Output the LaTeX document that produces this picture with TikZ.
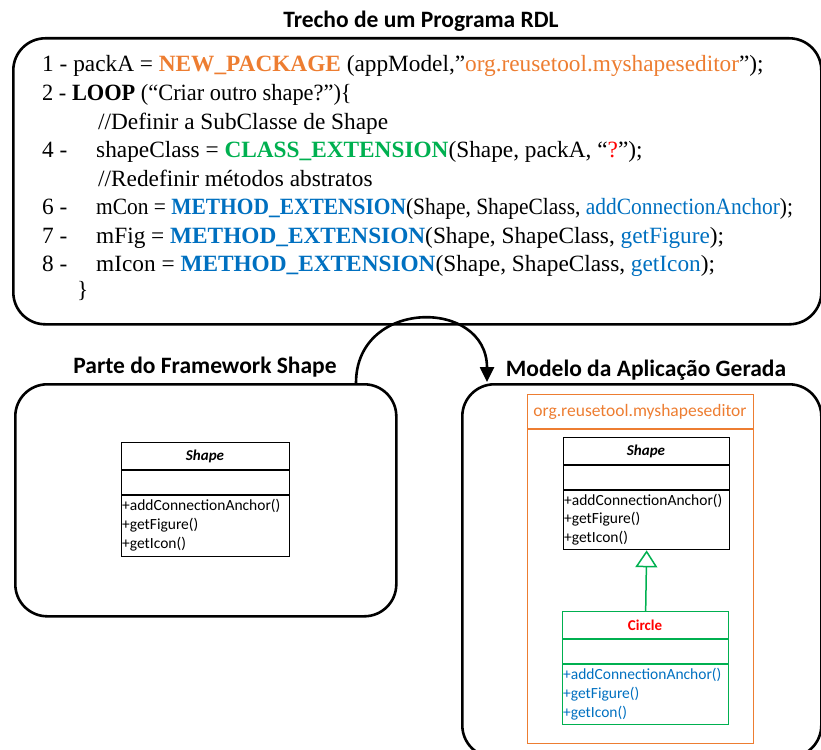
\documentclass[tikz,border=0pt]{standalone}
\usepackage{fontspec}
\setmainfont{Liberation Serif}
\newfontfamily\calib{Carlito}
\usetikzlibrary{arrows.meta}
\definecolor{corange}{RGB}{237,125,49}
\definecolor{cgreen}{RGB}{0,176,80}
\definecolor{cblue}{RGB}{0,112,192}
\definecolor{cred}{RGB}{255,0,0}
\begin{document}
\begin{tikzpicture}[x=1pt,y=-1pt,
 bigbox/.style={draw, line width=2.6pt, rounded corners=32pt, inner sep=0, anchor=north west},
 ttl/.style={font=\calib\bfseries\fontsize{23.5}{27}\selectfont, inner sep=0},
 code/.style={font=\fontsize{23.3}{27}\selectfont, anchor=base west, inner sep=0},
 clsbox/.style={draw, line width=1.3pt, inner sep=0, anchor=north west},
 clsname/.style={font=\calib\bfseries\itshape\fontsize{15}{18}\selectfont, inner sep=0},
 meth/.style={font=\calib\fontsize{15.5}{18}\selectfont, anchor=west, inner sep=0},
]
\clip (0,0) rectangle (821,749);
% titles
\node[ttl] (t1) at (421,21) {Trecho de um Programa RDL};
\node[ttl] (t2) at (205,367) {Parte do Framework Shape};
\node[ttl] (t3) at (646,370) {Modelo da Aplicação Gerada};
% big boxes
\node[bigbox, minimum width=808pt, minimum height=286pt] (prog) at (12,37) {};
\node[bigbox, minimum width=381pt, minimum height=232pt] (lbox) at (14,383) {};
\node[bigbox, minimum width=359pt, minimum height=373pt] (rbox) at (461,383) {};
% code
\node[code] (l1) at (42,72) {1 - packA = \textcolor{corange}{\textbf{NEW\_PACKAGE}} (appModel,”\textcolor{corange}{org.reusetool.myshapeseditor}”);};
\node[code] (l2) at (42,100.5) {\scalebox{0.96}[1]{2 - \textbf{LOOP} (“Criar outro shape?”)\{}};
\node[code] (l3) at (98,129) {//Definir a SubClasse de Shape};
\node[code] (n4) at (42,157) {4 -};
\node[code] (l4) at (96,157) {shapeClass = \textcolor{cgreen}{\textbf{CLASS\_EXTENSION}}(Shape, packA, “\textcolor{cred}{?}”);};
\node[code] (l5) at (98,186) {//Redefinir métodos abstratos};
\node[code] (n6) at (42,214) {6 -};
\node[code] (l6) at (96,214) {\scalebox{0.92}[1]{mCon = \textcolor{cblue}{\textbf{METHOD\_EXTENSION}}(Shape, ShapeClass, \textcolor{cblue}{addConnectionAnchor});}};
\node[code] (n7) at (42,243) {7 -};
\node[code] (l7) at (96,243) {mFig = \textcolor{cblue}{\textbf{METHOD\_EXTENSION}}(Shape, ShapeClass, \textcolor{cblue}{getFigure});};
\node[code] (n8) at (42,271) {8 -};
\node[code] (l8) at (96,271) {mIcon = \textcolor{cblue}{\textbf{METHOD\_EXTENSION}}(Shape, ShapeClass, \textcolor{cblue}{getIcon});};
\node[code] (l9) at (77,297) {\}};
% curved arrow
\coordinate (as) at (356,383);
\coordinate (ae) at (487,382);
\draw[line width=2.6pt, -{Triangle[length=15pt,width=14pt]}] (as) .. controls (356,298) and (487,298) .. (ae);
% left Shape class
\node[clsbox, minimum width=168pt, minimum height=114pt] (lshape) at (121,442) {};
\draw[line width=1.3pt] (121,470) -- (289,470) (121,495) -- (289,495);
\node[clsname] (lsn) at (205,456) {Shape};
\node[meth] (lm1) at (122,506) {+addConnectionAnchor()};
\node[meth] (lm2) at (122,525) {+getFigure()};
\node[meth] (lm3) at (122,544) {+getIcon()};
% package
\node[clsbox, draw=corange, minimum width=226pt, minimum height=349pt] (pkg) at (527,394) {};
\draw[corange, line width=1.3pt] (527,429) -- (753,429);
\node[font=\calib\fontsize{17.5}{20}\selectfont, text=corange, inner sep=0] (pkgn) at (640,412) {org.reusetool.myshapeseditor};
% right Shape class
\node[clsbox, minimum width=166pt, minimum height=112pt] (rshape) at (563,437) {};
\draw[line width=1.3pt] (563,465) -- (729,465) (563,490) -- (729,490);
\node[clsname] (rsn) at (646,451) {Shape};
\node[meth] (rm1) at (564,501) {+addConnectionAnchor()};
\node[meth] (rm2) at (564,519) {+getFigure()};
\node[meth] (rm3) at (564,538) {+getIcon()};
% Circle class
\node[clsbox, draw=cgreen, minimum width=166pt, minimum height=113pt] (circ) at (562,611) {};
\draw[cgreen, line width=1.3pt] (562,639) -- (728,639) (562,664) -- (728,664);
\node[clsname, font=\calib\bfseries\fontsize{15}{18}\selectfont, text=cred] (csn) at (645,625) {Circle};
\node[meth, text=cblue] (cm1) at (563,675) {+addConnectionAnchor()};
\node[meth, text=cblue] (cm2) at (563,694) {+getFigure()};
\node[meth, text=cblue] (cm3) at (563,713) {+getIcon()};
% generalization
\draw[cgreen, line width=1.5pt, -{Triangle[open, length=17pt, width=22pt, fill=white]}] (circ.north) -- (rshape.south);
\end{tikzpicture}
\end{document}
